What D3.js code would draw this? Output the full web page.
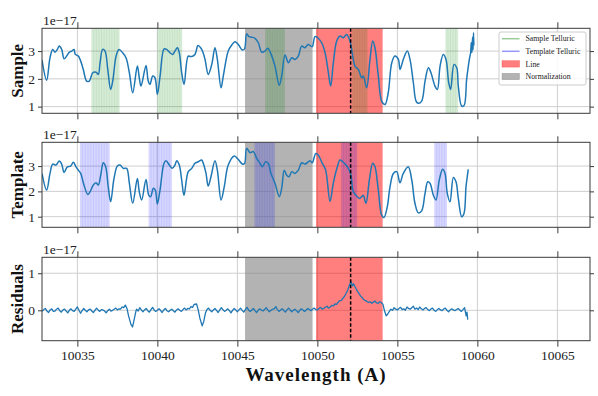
<!DOCTYPE html>
<html><head><meta charset="utf-8">
<script src="https://cdn.jsdelivr.net/npm/d3@7"></script>
<style>body{margin:0;background:#fff} svg{display:block} text{font-family:"Liberation Serif","Times New Roman",serif}</style>
</head><body><svg id="c" width="598" height="396"></svg>
<script>
// ---------------- DATA (flux in units of 1e-17) ----------------
const sampleSpectrum = [
[10032.79,2.68],[10033.08,1.95],[10033.29,2.76],[10033.46,3.06],[10033.60,2.96],[10033.75,3.06],[10033.87,3.18],
[10034.02,3.06],[10034.17,2.72],[10034.33,2.82],[10034.50,2.96],[10034.65,3.0],[10034.79,3.06],[10034.87,2.88],
[10035.06,2.82],[10035.17,2.70],[10035.37,2.34],[10035.58,1.92],[10035.75,1.92],[10035.96,2.22],[10036.17,2.24],
[10036.31,2.16],[10036.42,2.58],[10036.58,3.06],[10036.73,3.0],[10036.90,2.34],[10037.08,1.62],[10037.21,1.92],
[10037.42,2.82],[10037.60,3.06],[10037.83,2.94],[10038.04,2.76],[10038.25,2.22],[10038.46,1.5],[10038.75,2.46],
[10038.87,2.04],[10038.98,1.74],[10039.29,2.48],[10039.43,1.92],[10039.54,1.80],[10039.71,2.1],[10039.85,2.04],
[10040.00,1.44],[10040.17,2.1],[10040.42,3.08],[10040.58,3.06],[10040.79,2.94],[10040.96,2.88],[10041.10,3.0],
[10041.25,3.12],[10041.37,2.94],[10041.52,2.22],[10041.67,1.80],[10041.93,2.82],[10042.10,2.8],[10042.35,2.88],
[10042.54,3.2],[10042.73,3.1],[10042.85,2.96],[10042.98,2.7],[10043.18,2.16],[10043.40,2.52],[10043.60,3.12],
[10043.75,2.7],[10043.98,1.68],[10044.12,2.1],[10044.43,3.0],[10044.65,3.22],[10044.85,3.34],[10045.06,3.24],
[10045.31,3.04],[10045.45,3.08],[10045.58,3.62],[10045.73,3.52],[10045.90,3.5],[10046.10,3.46],[10046.31,3.3],
[10046.52,2.96],[10046.73,3.0],[10046.90,3.1],[10047.10,2.9],[10047.35,2.46],[10047.62,1.77],[10047.77,2.1],
[10047.98,2.86],[10048.19,2.58],[10048.40,2.76],[10048.60,2.70],[10048.81,2.82],[10049.02,3.18],[10049.23,3.12],
[10049.42,3.24],[10049.54,3.2],[10049.68,3.16],[10049.85,3.52],[10050.02,3.48],[10050.27,3.3],[10050.48,2.94],
[10050.67,2.3],[10050.83,1.74],[10051.00,2.58],[10051.21,3.36],[10051.42,3.54],[10051.62,3.48],[10051.83,3.6],
[10052.04,3.36],[10052.21,2.82],[10052.35,2.46],[10052.56,2.34],[10052.77,2.04],[10052.87,2.1],[10053.08,1.68],
[10053.29,2.7],[10053.46,3.36],[10053.60,3.12],[10053.81,2.1],[10054.02,1.2],[10054.23,1.08],[10054.43,1.5],
[10054.65,2.58],[10054.85,2.82],[10055.06,2.7],[10055.17,2.34],[10055.37,2.7],[10055.62,3.0],[10055.79,2.7],
[10056.00,1.86],[10056.17,1.2],[10056.31,1.12],[10056.52,1.2],[10056.73,1.92],[10056.94,2.4],[10057.10,2.22],
[10057.35,1.74],[10057.50,1.62],[10057.67,2.46],[10057.87,2.88],[10058.04,2.7],[10058.21,1.86],[10058.33,1.62],
[10058.54,2.52],[10058.71,2.4],[10058.81,1.74],[10059.02,1.02],[10059.17,1.04],[10059.33,1.98],[10059.50,2.7],
[10059.58,2.94],[10059.62,3.3],[10059.66,2.95],[10059.70,3.5],[10059.73,3.05],[10059.76,3.66],[10059.78,3.2]
];
const templateSpectrum = [
[10032.79,2.71],[10033.08,2.05],[10033.29,2.71],[10033.46,3.08],[10033.665,3.04],[10033.87,3.2],[10034.02,3.08],
[10034.17,2.75],[10034.37,2.97],[10034.58,3.0],[10034.75,3.15],[10034.915,2.97],[10035.06,2.84],[10035.21,2.71],
[10035.415,2.25],[10035.65,1.88],[10035.79,1.98],[10035.995,2.25],[10036.165,2.34],[10036.31,2.25],[10036.46,2.64],
[10036.62,3.13],[10036.77,2.97],[10036.93,2.18],[10037.08,1.59],[10037.29,2.51],[10037.50,3.0],[10037.665,3.04],
[10037.87,2.91],[10038.08,2.91],[10038.25,2.32],[10038.46,1.53],[10038.75,2.51],[10038.87,1.98],[10039.02,1.66],
[10039.29,2.47],[10039.46,1.85],[10039.58,1.79],[10039.75,2.12],[10039.87,2.05],[10040.00,1.5],[10040.165,2.05],
[10040.415,3.11],[10040.54,3.21],[10040.75,3.04],[10040.93,2.91],[10041.10,3.04],[10041.21,3.21],[10041.37,3.04],
[10041.52,2.45],[10041.665,1.85],[10041.93,2.78],[10042.15,2.91],[10042.35,3.11],[10042.56,3.17],[10042.77,3.24],
[10042.87,3.11],[10043.04,2.71],[10043.18,2.21],[10043.35,2.58],[10043.60,3.21],[10043.75,2.84],[10043.98,1.66],
[10044.18,2.18],[10044.43,3.04],[10044.81,3.40],[10045.06,3.26],[10045.31,3.08],[10045.45,3.1],[10045.58,3.70],
[10045.79,3.53],[10046.00,3.57],[10046.21,3.30],[10046.415,3.11],[10046.56,2.97],[10046.77,3.17],[10046.93,3.11],
[10047.10,2.71],[10047.35,2.32],[10047.62,1.79],[10047.77,2.12],[10047.93,2.84],[10048.08,2.64],[10048.23,2.58],
[10048.40,2.78],[10048.60,2.71],[10048.81,2.84],[10049.02,3.13],[10049.23,3.08],[10049.54,3.21],[10049.68,3.13],
[10049.90,3.50],[10050.06,3.43],[10050.31,3.11],[10050.52,2.84],[10050.79,1.6],[10050.995,2.32],[10051.25,2.97],
[10051.415,3.24],[10051.585,3.17],[10051.79,3.04],[10051.995,2.84],[10052.10,2.64],[10052.25,1.98],[10052.415,1.85],
[10052.62,1.72],[10052.77,1.79],[10052.87,1.85],[10053.04,1.53],[10053.25,2.45],[10053.46,3.11],[10053.60,2.97],
[10053.81,2.05],[10054.02,1.06],[10054.165,0.97],[10054.37,1.39],[10054.54,2.18],[10054.75,2.71],[10054.96,2.78],
[10055.165,2.34],[10055.37,2.71],[10055.68,2.97],[10055.90,2.45],[10056.10,1.53],[10056.31,1.15],[10056.52,1.23],
[10056.73,1.92],[10056.90,2.38],[10057.04,2.32],[10057.25,1.85],[10057.415,1.66],[10057.62,2.45],[10057.83,2.87],
[10057.98,2.71],[10058.12,1.92],[10058.29,1.59],[10058.50,2.55],[10058.665,2.38],[10058.81,1.72],[10059.02,1.0],
[10059.165,1.13],[10059.29,2.18],[10059.37,2.58],[10059.43,2.87]
];
const residualSpectrum = [
[10032.8,-0.03],[10032.9,0.02],[10033.0,0.05],[10033.1,-0.02],[10033.2,-0.06],[10033.3,0.01],[10033.4,0.04],
[10033.5,-0.03],[10033.6,-0.02],[10033.7,0.03],[10033.8,0.06],[10033.9,-0.01],[10034.0,-0.05],[10034.1,0.01],
[10034.2,0.03],[10034.3,-0.02],[10034.4,-0.07],[10034.5,0.0],[10034.6,0.04],[10034.7,-0.01],[10034.8,-0.03],
[10034.9,0.03],[10035.0,0.09],[10035.1,0.0],[10035.2,-0.08],[10035.3,-0.01],[10035.4,0.05],[10035.5,0.0],
[10035.6,-0.04],[10035.7,0.01],[10035.8,0.03],[10035.9,-0.02],[10036.0,-0.06],[10036.1,0.0],[10036.2,0.06],
[10036.3,0.01],[10036.4,-0.03],[10036.5,0.02],[10036.6,0.01],[10036.7,-0.02],[10036.8,-0.07],[10036.9,-0.01],
[10037.0,0.03],[10037.1,-0.02],[10037.2,0.0],[10037.3,0.03],[10037.4,0.06],[10037.5,0.01],[10037.6,0.04],
[10037.7,0.03],[10037.8,0.09],[10037.9,0.07],[10038.0,0.14],[10038.1,0.05],[10038.2,-0.15],[10038.35,-0.38],
[10038.45,-0.45],[10038.55,-0.25],[10038.65,-0.04],[10038.7,0.03],[10038.8,-0.02],[10038.9,0.07],[10039.0,0.01],
[10039.1,-0.04],[10039.2,0.01],[10039.3,0.05],[10039.4,-0.01],[10039.5,-0.05],[10039.6,0.02],[10039.7,0.08],
[10039.8,0.01],[10039.9,-0.03],[10040.0,0.0],[10040.1,0.04],[10040.2,0.0],[10040.3,-0.06],[10040.4,0.01],
[10040.5,0.05],[10040.6,-0.01],[10040.7,-0.04],[10040.8,0.0],[10040.9,0.03],[10041.0,-0.01],[10041.1,-0.05],
[10041.2,0.01],[10041.3,0.04],[10041.4,0.0],[10041.5,-0.03],[10041.6,0.02],[10041.7,0.06],[10041.8,0.01],
[10041.9,0.05],[10042.0,0.04],[10042.1,0.1],[10042.2,0.08],[10042.3,0.16],[10042.45,0.17],[10042.55,0.02],
[10042.65,-0.2],[10042.8,-0.42],[10042.9,-0.3],[10043.0,-0.08],[10043.1,0.02],[10043.2,0.06],[10043.3,0.0],
[10043.4,-0.04],[10043.5,0.01],[10043.6,0.05],[10043.7,0.0],[10043.8,-0.06],[10043.9,0.01],[10044.0,0.07],
[10044.1,0.02],[10044.2,-0.03],[10044.3,0.0],[10044.4,0.04],[10044.5,-0.01],[10044.6,-0.07],[10044.7,0.0],
[10044.8,0.05],[10044.9,0.01],[10045.0,-0.04],[10045.1,0.01],[10045.2,0.06],[10045.3,0.0],[10045.4,-0.05],
[10045.5,0.02],[10045.6,0.08],[10045.7,0.01],[10045.8,-0.03],[10045.9,0.01],[10046.0,0.05],[10046.1,-0.01],
[10046.2,-0.06],[10046.3,0.0],[10046.4,0.04],[10046.5,0.01],[10046.6,-0.02],[10046.7,0.02],[10046.8,0.07],
[10046.9,0.01],[10047.0,-0.04],[10047.1,0.0],[10047.2,0.03],[10047.3,0.04],[10047.4,0.1],[10047.5,0.02],
[10047.6,-0.03],[10047.7,0.01],[10047.8,0.04],[10047.9,0.0],[10048.0,-0.05],[10048.1,0.01],[10048.2,0.06],
[10048.3,0.01],[10048.4,-0.04],[10048.5,0.0],[10048.6,0.03],[10048.7,-0.01],[10048.8,-0.06],[10048.9,0.0],
[10049.0,0.04],[10049.1,0.01],[10049.2,-0.03],[10049.3,0.01],[10049.4,0.05],[10049.5,0.02],[10049.6,-0.01],
[10049.7,0.03],[10049.8,0.06],[10049.9,0.02],[10050.0,0.01],[10050.1,0.05],[10050.2,0.08],[10050.3,0.03],
[10050.4,0.05],[10050.5,0.08],[10050.6,0.11],[10050.7,0.06],[10050.8,0.09],[10050.9,0.13],[10051.0,0.12],
[10051.1,0.17],[10051.2,0.16],[10051.3,0.22],[10051.4,0.26],[10051.5,0.27],[10051.6,0.33],[10051.7,0.38],
[10051.8,0.46],[10051.9,0.55],[10051.95,0.6],[10052.0,0.68],[10052.05,0.72],[10052.1,0.77],[10052.15,0.7],
[10052.2,0.66],[10052.25,0.72],[10052.3,0.68],[10052.4,0.6],[10052.45,0.55],[10052.5,0.52],[10052.6,0.45],
[10052.7,0.39],[10052.8,0.34],[10052.9,0.29],[10053.0,0.26],[10053.1,0.24],[10053.2,0.21],[10053.3,0.23],
[10053.4,0.19],[10053.5,0.22],[10053.6,0.25],[10053.7,0.2],[10053.8,0.19],[10053.9,0.23],[10054.0,0.21],
[10054.1,0.16],[10054.2,-0.02],[10054.3,-0.15],[10054.4,-0.1],[10054.5,-0.03],[10054.6,0.03],[10054.7,0.0],
[10054.8,0.07],[10054.9,0.03],[10055.0,0.01],[10055.1,0.05],[10055.2,0.08],[10055.3,0.02],[10055.4,0.04],
[10055.5,0.0],[10055.6,0.09],[10055.7,0.05],[10055.8,0.03],[10055.9,0.07],[10056.0,0.11],[10056.1,0.03],
[10056.2,0.06],[10056.3,0.02],[10056.4,0.09],[10056.5,0.04],[10056.6,0.01],[10056.7,0.05],[10056.8,0.07],
[10056.9,0.02],[10057.0,-0.01],[10057.1,0.04],[10057.2,0.06],[10057.3,0.0],[10057.4,-0.03],[10057.5,0.02],
[10057.6,0.05],[10057.7,0.01],[10057.8,-0.01],[10057.9,0.04],[10058.0,0.06],[10058.1,0.0],[10058.2,-0.04],
[10058.3,0.01],[10058.4,0.04],[10058.5,0.01],[10058.6,-0.01],[10058.7,0.02],[10058.8,0.05],[10058.9,0.01],
[10059.0,-0.03],[10059.1,0.02],[10059.2,0.07],[10059.3,-0.15],[10059.35,-0.05],[10059.4,-0.25]
];
const sampleTelluric = [[10035.87,10037.64],[10040.00,10041.55],[10046.73,10047.98],[10052.16,10053.14],[10058.00,10058.80]];
const templateTelluric = [[10035.16,10037.02],[10039.45,10040.91],[10046.06,10047.35],[10051.47,10052.49],[10057.30,10058.10]];
const normRegion = [10045.48, 10049.70];
const lineRegion = [10049.92, 10054.08];
const lineCenter = 10052.08;
const xTicks = [10035, 10040, 10045, 10050, 10055, 10060, 10065];
const fluxTicks = [1, 2, 3];
const residTicks = [0, 1];
const panelLabels = ["Sample", "Template", "Residuals"];
const legendLabels = ["Sample Telluric", "Template Telluric", "Line", "Normalization"];
const xLabel = "Wavelength (A)";
const offsetLabel = "1e\u221217";

// ---------------- DRAWING ----------------
const svg = d3.select("#c");
const L = 42, R = 590;
const x = d3.scaleLinear().domain([10032.79, 10067.04]).range([L, R]);

const panels = [
  {label: panelLabels[0], data: sampleSpectrum, top: 28.3, bottom: 113.3, dom: [0.76, 3.82], ticks: fluxTicks, tell: sampleTelluric, tellColor: "green", xlab: false, smooth: true},
  {label: panelLabels[1], data: templateSpectrum, top: 142.3, bottom: 227.3, dom: [0.58, 3.94], ticks: fluxTicks, tell: templateTelluric, tellColor: "blue", xlab: false, smooth: true},
  {label: panelLabels[2], data: residualSpectrum, top: 257.3, bottom: 340.7, dom: [-0.82, 1.43], ticks: residTicks, tell: [], tellColor: null, xlab: true, smooth: false}
];

const defs = svg.append("defs");

panels.forEach((p, i) => {
  const y = d3.scaleLinear().domain(p.dom).range([p.bottom, p.top]);
  const g = svg.append("g");
  defs.append("clipPath").attr("id", "clip" + i).append("rect")
    .attr("x", L).attr("y", p.top).attr("width", R - L).attr("height", p.bottom - p.top);

  // grid
  g.append("g").selectAll("line").data(xTicks).join("line")
    .attr("x1", d => x(d)).attr("x2", d => x(d)).attr("y1", p.top).attr("y2", p.bottom)
    .attr("stroke", "#cfcfcf").attr("stroke-width", 1);
  g.append("g").selectAll("line").data(p.ticks).join("line")
    .attr("x1", L).attr("x2", R).attr("y1", d => y(d)).attr("y2", d => y(d))
    .attr("stroke", "#cfcfcf").attr("stroke-width", 1);

  const spans = g.append("g").attr("clip-path", `url(#clip${i})`);
  spans.append("rect").attr("x", x(normRegion[0])).attr("width", x(normRegion[1]) - x(normRegion[0]))
    .attr("y", p.top).attr("height", p.bottom - p.top).attr("fill", "gray").attr("fill-opacity", 0.6);
  spans.append("rect").attr("x", x(lineRegion[0])).attr("width", x(lineRegion[1]) - x(lineRegion[0]))
    .attr("y", p.top).attr("height", p.bottom - p.top).attr("fill", "red").attr("fill-opacity", 0.5);
  p.tell.forEach(t => {
    spans.append("rect").attr("x", x(t[0])).attr("width", x(t[1]) - x(t[0]))
      .attr("y", p.top).attr("height", p.bottom - p.top).attr("fill", p.tellColor).attr("fill-opacity", 0.16);
    const w = x(t[1]) - x(t[0]);
    const n = Math.max(3, Math.round(w / 2.6));
    for (let k = 1; k < n; k++) {
      spans.append("rect").attr("x", x(t[0]) + w * k / n - 0.5).attr("width", 1)
        .attr("y", p.top).attr("height", p.bottom - p.top).attr("fill", p.tellColor).attr("fill-opacity", 0.07);
    }
  });

  const line = d3.line().x(d => x(d[0])).y(d => y(d[1]))
    .curve(p.smooth ? d3.curveCatmullRom.alpha(0.5) : d3.curveLinear);
  g.append("path").datum(p.data).attr("d", line).attr("fill", "none")
    .attr("stroke", "#1f77b4").attr("stroke-width", p.smooth ? 1.5 : 1.3).attr("stroke-linejoin", "round")
    .attr("clip-path", `url(#clip${i})`);

  g.append("line").attr("x1", x(lineCenter)).attr("x2", x(lineCenter)).attr("y1", p.top).attr("y2", p.bottom)
    .attr("stroke", "#000").attr("stroke-width", 1.5).attr("stroke-dasharray", "3.5,2");

  g.append("rect").attr("x", L).attr("y", p.top).attr("width", R - L).attr("height", p.bottom - p.top)
    .attr("fill", "none").attr("stroke", "#3a3a3a").attr("stroke-width", 1);

  const styleAxis = sel => {
    sel.select(".domain").remove();
    sel.selectAll(".tick line").attr("stroke", "#3a3a3a");
    sel.selectAll(".tick text").attr("fill", "#222").style("font-family", '"Liberation Serif",serif').style("font-size", "13.5px");
  };
  g.append("g").attr("transform", `translate(0,${p.bottom})`)
    .call(d3.axisBottom(x).tickValues(xTicks).tickSize(6).tickPadding(4)
      .tickFormat(p.xlab ? d3.format("d") : () => ""))
    .call(styleAxis);
  g.append("g").attr("transform", `translate(0,${p.top})`)
    .call(d3.axisTop(x).tickValues(xTicks).tickSize(6).tickFormat(() => ""))
    .call(styleAxis);
  g.append("g").attr("transform", `translate(${L},0)`)
    .call(d3.axisLeft(y).tickValues(p.ticks).tickSize(4).tickPadding(3).tickFormat(d3.format("d")))
    .call(styleAxis);
  g.append("g").attr("transform", `translate(${R},0)`)
    .call(d3.axisRight(y).tickValues(p.ticks).tickSize(4).tickFormat(() => ""))
    .call(styleAxis);

  g.append("text").attr("x", L + 1).attr("y", p.top - 3.5).attr("font-size", 13.5).attr("fill", "#222")
    .text(offsetLabel);

  g.append("text").attr("transform", `translate(23,${(p.top + p.bottom) / 2}) rotate(-90)`)
    .attr("text-anchor", "middle").attr("font-size", 17).attr("font-weight", "bold").attr("fill", "#111")
    .text(p.label);
});

svg.append("text").attr("x", (L + R) / 2).attr("y", 381).attr("text-anchor", "middle")
  .attr("font-size", 19).attr("font-weight", "bold").attr("letter-spacing", 1).attr("fill", "#111").text(xLabel);

const lg = svg.append("g");
lg.append("rect").attr("x", 499).attr("y", 32).attr("width", 87).attr("height", 53).attr("rx", 2)
  .attr("fill", "#fff").attr("fill-opacity", 0.85).attr("stroke", "#cccccc").attr("stroke-width", 1);
const legendStyles = [
  {type: "line", color: "green", op: 0.4},
  {type: "line", color: "blue", op: 0.4},
  {type: "patch", color: "red", op: 0.5},
  {type: "patch", color: "gray", op: 0.6}
];
legendLabels.forEach((lab, k) => {
  const cy = 38.7 + k * 12.6;
  const s = legendStyles[k];
  if (s.type === "line") {
    lg.append("line").attr("x1", 502).attr("x2", 519.5).attr("y1", cy).attr("y2", cy)
      .attr("stroke", s.color).attr("stroke-opacity", s.op).attr("stroke-width", 1.5);
  } else {
    lg.append("rect").attr("x", 502).attr("y", cy - 3.2).attr("width", 17.5).attr("height", 6.4)
      .attr("fill", s.color).attr("fill-opacity", s.op).attr("stroke", s.color).attr("stroke-opacity", s.op).attr("stroke-width", 0.5);
  }
  lg.append("text").attr("x", 525.5).attr("y", cy + 2.6).attr("font-size", 7.8).attr("fill", "#222").text(lab);
});
</script></body></html>
